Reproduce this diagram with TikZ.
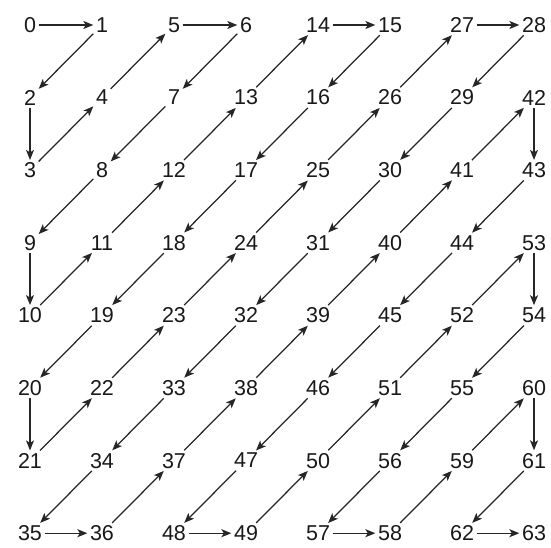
\documentclass[tikz,border=0pt]{standalone}
\usepackage{fontspec}
\setmainfont{Liberation Sans}
\usetikzlibrary{arrows.meta}
\tikzset{
  scannum/.style={
    inner sep=2.5pt, text=black!90,
    font=\fontsize{21.5}{25}\selectfont
  },
  scanarrow/.style={
    draw=black!85, line width=1.25pt,
    -{Stealth[length=10pt,width=8pt,inset=2.5pt]}
  }
}

\begin{document}
\begin{tikzpicture}[x=1pt,y=-1pt]
  \useasboundingbox (0,0) rectangle (551,548);
  %
  % ==================================================================
  % Numbers: zigzag order, one list per row (top to bottom)
  % ==================================================================
  \foreach \row [count=\r from 0] in {
      {0,1,5,6,14,15,27,28},
      {2,4,7,13,16,26,29,42},
      {3,8,12,17,25,30,41,43},
      {9,11,18,24,31,40,44,53},
      {10,19,23,32,39,45,52,54},
      {20,22,33,38,46,51,55,60},
      {21,34,37,47,50,56,59,61},
      {35,36,48,49,57,58,62,63}}{
    \foreach \v [count=\c from 0] in \row {
      \node[scannum] (n\v) at ({30+72*\c},{25+72.6*\r}) {\v};
    }
  }
  %
  % ==================================================================
  % Connectors: k -> k+1
  % ==================================================================
  \foreach \k [count=\j from 1] in {0,...,62} {
    \draw[scanarrow] (n\k) -- (n\j);
  }
\end{tikzpicture}
\end{document}
